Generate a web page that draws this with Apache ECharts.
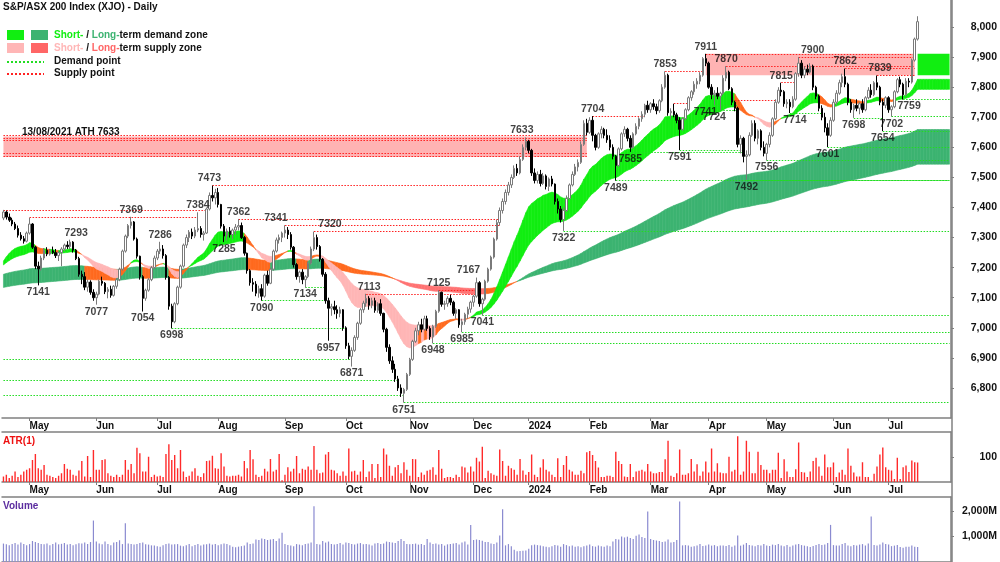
<!DOCTYPE html>
<html>
<head>
<meta charset="utf-8">
<script src="https://cdn.jsdelivr.net/npm/echarts/dist/echarts.min.js"></script>
<style>
  html, body { margin: 0; padding: 0; background: #fff; }
  #chart { width: 1000px; height: 562px; }
</style>
</head>
<body>
<div id="chart"></div>
<script>
// trading days from 17 Apr 2023, ASX holidays skipped; the last 11 are blank room on the right
const holidays = ['2023-04-25', '2023-06-12', '2023-12-25', '2023-12-26', '2024-01-01',
  '2024-01-26', '2024-03-29', '2024-04-01', '2024-04-25', '2024-06-10'];
const categoryCount = 327;
const monthNames = ['2024', 'Feb', 'Mar', 'Apr', 'May', 'Jun', 'Jul', 'Aug', 'Sep', 'Oct', 'Nov', 'Dec'];

// daily bars [open, high, low, close]
const priceBars = [
  [7365,7392,7358,7385],[7385,7390,7360,7368],[7368,7380,7352,7358],[7358,7366,7338,7345],[7345,7352,7325,7330],
  [7330,7340,7300,7308],[7308,7318,7290,7296],[7296,7305,7280,7288],[7288,7320,7284,7315],[7315,7366,7310,7345],
  [7345,7348,7262,7268],[7268,7272,7195,7205],[7205,7220,7141,7196],[7196,7240,7190,7232],[7232,7265,7225,7258],
  [7258,7268,7238,7245],[7245,7262,7240,7256],[7256,7270,7245,7250],[7250,7262,7232,7240],[7240,7255,7222,7250],
  [7250,7268,7205,7262],[7262,7280,7255,7275],[7275,7288,7262,7270],[7270,7293,7262,7285],[7285,7288,7250,7258],
  [7258,7262,7225,7230],[7230,7236,7170,7178],[7178,7190,7145,7170],[7170,7185,7125,7135],[7135,7160,7120,7152],
  [7152,7158,7110,7118],[7118,7128,7090,7100],[7100,7120,7077,7112],[7112,7160,7108,7155],[7155,7170,7140,7148],
  [7148,7152,7112,7120],[7120,7135,7098,7128],[7128,7140,7100,7108],[7108,7142,7104,7138],[7138,7165,7130,7160],
  [7160,7200,7155,7195],[7195,7260,7190,7255],[7255,7310,7250,7305],[7305,7345,7298,7340],[7340,7369,7330,7352],
  [7352,7355,7290,7295],[7295,7300,7230,7238],[7238,7240,7160,7170],[7170,7175,7054,7098],[7098,7130,7090,7125],
  [7125,7165,7120,7160],[7160,7205,7155,7200],[7200,7240,7195,7232],[7232,7262,7225,7255],[7255,7286,7245,7262],
  [7262,7275,7230,7240],[7240,7245,7160,7168],[7168,7172,7060,7072],[7072,7080,6998,7020],[7020,7085,7015,7080],
  [7080,7140,7075,7135],[7135,7210,7130,7205],[7205,7280,7200,7275],[7275,7310,7265,7300],[7300,7325,7285,7318],
  [7318,7330,7295,7305],[7305,7335,7298,7325],[7325,7384,7318,7330],[7330,7338,7300,7310],[7310,7322,7290,7315],
  [7315,7400,7312,7395],[7395,7450,7390,7440],[7440,7473,7420,7432],[7432,7462,7410,7450],[7450,7465,7400,7410],
  [7410,7412,7330,7338],[7338,7345,7285,7305],[7305,7330,7290,7322],[7322,7335,7300,7310],[7310,7330,7295,7325],
  [7325,7345,7310,7335],[7335,7362,7325,7340],[7340,7350,7295,7300],[7300,7305,7240,7248],[7248,7250,7180,7190],
  [7190,7195,7140,7150],[7150,7165,7120,7145],[7145,7155,7105,7115],[7115,7140,7100,7130],[7130,7145,7090,7105],
  [7105,7180,7100,7175],[7175,7190,7140,7148],[7148,7200,7145,7195],[7195,7260,7190,7255],[7255,7300,7250,7292],
  [7292,7310,7280,7300],[7300,7320,7285,7315],[7315,7341,7300,7325],[7325,7335,7295,7310],[7310,7318,7260,7268],
  [7268,7272,7200,7210],[7210,7215,7160,7170],[7170,7190,7150,7185],[7185,7195,7145,7160],[7160,7175,7134,7170],
  [7170,7220,7165,7215],[7215,7270,7210,7262],[7262,7320,7255,7300],[7300,7310,7260,7270],[7270,7275,7220,7228],
  [7228,7232,7170,7178],[7178,7185,7080,7090],[7090,7100,6957,7065],[7065,7080,7040,7070],[7070,7090,7045,7060],
  [7060,7075,7030,7048],[7048,7070,7035,7060],[7060,7062,6990,7000],[7000,7005,6930,6940],[6940,6950,6895,6905],
  [6905,6935,6871,6925],[6925,6975,6920,6968],[6968,7020,6960,7015],[7015,7065,7010,7060],[7060,7090,7050,7082],
  [7082,7113,7070,7098],[7098,7105,7060,7075],[7075,7100,7065,7090],[7090,7100,7050,7058],[7058,7085,7050,7080],
  [7080,7095,7040,7048],[7048,7050,6985,6995],[6995,7000,6920,6935],[6935,6945,6880,6890],[6890,6905,6850,6862],
  [6862,6880,6820,6830],[6830,6840,6790,6800],[6800,6812,6770,6782],[6782,6800,6751,6795],[6795,6850,6790,6845],
  [6845,6900,6840,6895],[6895,6960,6890,6955],[6955,7000,6950,6990],[6990,7020,6975,7010],[7010,7030,6985,6995],
  [6995,7040,6990,7030],[7030,7040,6990,6998],[6998,7005,6960,6970],[6970,7010,6948,7005],[7005,7060,7000,7055],
  [7055,7125,7050,7118],[7118,7120,7070,7078],[7078,7090,7060,7080],[7080,7105,7070,7098],[7098,7110,7075,7085],
  [7085,7090,7040,7048],[7048,7065,7030,7060],[7060,7062,7000,7010],[7010,7030,6985,7020],[7020,7050,7010,7045],
  [7045,7070,7030,7062],[7062,7090,7050,7085],[7085,7110,7070,7105],[7105,7167,7100,7150],[7150,7155,7070,7080],
  [7080,7100,7041,7095],[7095,7160,7090,7155],[7155,7200,7150,7195],[7195,7240,7190,7235],[7235,7300,7230,7295],
  [7295,7360,7290,7350],[7350,7400,7340,7390],[7390,7430,7380,7420],[7420,7460,7410,7450],[7450,7485,7440,7475],
  [7475,7510,7465,7500],[7500,7540,7495,7530],[7530,7545,7505,7515],[7515,7570,7510,7560],[7560,7610,7555,7600],
  [7600,7633,7590,7620],[7620,7625,7580,7590],[7590,7595,7505,7515],[7515,7530,7480,7490],[7490,7520,7480,7510],
  [7510,7525,7470,7480],[7480,7515,7475,7505],[7505,7510,7460,7470],[7470,7500,7455,7495],[7495,7505,7470,7478],
  [7478,7480,7410,7420],[7420,7430,7380,7395],[7395,7405,7350,7360],[7360,7400,7322,7390],[7390,7440,7385,7430],
  [7430,7480,7425,7475],[7475,7520,7470,7510],[7510,7545,7505,7535],[7535,7560,7520,7550],[7550,7620,7545,7610],
  [7610,7690,7605,7680],[7680,7695,7640,7650],[7650,7700,7645,7690],[7690,7704,7620,7640],[7640,7645,7590,7600],
  [7600,7650,7595,7645],[7645,7670,7630,7660],[7660,7665,7630,7640],[7640,7660,7615,7625],[7625,7640,7590,7600],
  [7600,7610,7560,7570],[7570,7575,7489,7540],[7540,7600,7535,7595],[7595,7650,7590,7645],[7645,7670,7635,7660],
  [7660,7665,7620,7630],[7630,7640,7585,7600],[7600,7650,7595,7645],[7645,7680,7640,7670],[7670,7700,7660,7695],
  [7695,7720,7685,7710],[7710,7745,7700,7740],[7740,7755,7715,7725],[7725,7750,7715,7745],[7745,7760,7725,7735],
  [7735,7745,7710,7722],[7722,7760,7715,7755],[7755,7810,7750,7800],[7800,7853,7795,7840],[7840,7845,7705,7715],
  [7715,7730,7695,7720],[7720,7745,7700,7708],[7708,7715,7680,7690],[7690,7700,7591,7660],[7660,7700,7655,7695],
  [7695,7730,7690,7725],[7725,7770,7720,7765],[7765,7790,7755,7785],[7785,7820,7775,7810],[7810,7830,7795,7820],
  [7820,7850,7810,7840],[7840,7900,7835,7895],[7895,7911,7870,7880],[7880,7885,7795,7800],[7800,7810,7760,7775],
  [7775,7790,7741,7780],[7780,7800,7760,7770],[7770,7785,7724,7780],[7780,7840,7775,7830],[7830,7870,7820,7850],
  [7850,7855,7790,7795],[7795,7800,7740,7750],[7750,7755,7720,7730],[7730,7735,7600,7610],[7610,7640,7580,7630],
  [7630,7635,7550,7570],[7570,7590,7492,7575],[7575,7650,7570,7640],[7640,7690,7635,7680],[7680,7690,7620,7630],
  [7630,7660,7610,7655],[7655,7660,7590,7600],[7600,7620,7570,7580],[7580,7615,7556,7610],[7610,7650,7600,7640],
  [7640,7700,7635,7695],[7695,7760,7690,7750],[7750,7800,7745,7790],[7790,7815,7770,7785],[7785,7790,7735,7745],
  [7745,7760,7730,7750],[7750,7760,7714,7735],[7735,7770,7730,7760],[7760,7850,7755,7845],[7845,7900,7835,7880],
  [7880,7890,7830,7840],[7840,7870,7830,7860],[7860,7875,7840,7850],[7850,7880,7845,7870],[7870,7875,7790,7800],
  [7800,7805,7760,7770],[7770,7775,7720,7730],[7730,7740,7690,7700],[7700,7715,7650,7665],[7665,7680,7601,7640],
  [7640,7700,7635,7690],[7690,7760,7685,7750],[7750,7790,7740,7780],[7780,7825,7775,7815],[7815,7845,7800,7835],
  [7835,7862,7800,7810],[7810,7815,7740,7750],[7750,7760,7715,7725],[7725,7745,7698,7740],[7740,7760,7720,7730],
  [7730,7750,7710,7745],[7745,7760,7715,7725],[7725,7770,7720,7765],[7765,7800,7760,7790],[7790,7810,7765,7775],
  [7775,7820,7770,7815],[7815,7839,7790,7800],[7800,7805,7740,7750],[7750,7760,7654,7740],[7740,7770,7730,7765],
  [7765,7770,7715,7725],[7725,7740,7702,7735],[7735,7790,7730,7785],[7785,7830,7780,7825],[7825,7835,7800,7810],
  [7810,7815,7759,7775],[7775,7830,7770,7820],[7820,7830,7800,7817],[7817,7895,7812,7890],[7890,7965,7885,7960],
  [7960,8036,7955,8018]
];

// ATR(1), index points
const atrValues = [
  22,29,16,25,42,20,29,42,49,55, 88,112,55,49,68,29,25,20,16,25, 35,72,53,49,29,25,46,84,22,104,
  20,128,49,49,88,91,35,25,20,29, 20,29,88,49,72,35,137,115,42,42, 101,20,29,22,25,20,112,151,88,108,
  55,128,42,20,25,42,55,25,20,35, 84,86,105,55,53,115,62,25,22,25, 25,29,22,84,55,128,91,29,20,25,
  53,42,92,42,49,112,7,29,59,42, 53,104,35,53,49,62,49,144,49,35, 38,110,120,49,46,35,25,42,25,134,
  42,45,29,42,88,20,42,72,16,72, 20,134,110,65,25,59,68,35,79,49, 25,92,91,20,38,29,45,49,59,29,
  128,53,16,20,20,16,29,20,62,58, 38,62,42,97,82,141,16,45,35,29, 25,130,84,25,65,55,49,29,92,46,
  29,40,110,29,20,58,91,49,42,29, 20,95,20,68,104,49,42,29,29,45, 35,119,124,108,84,58,20,20,25,25,
  20,121,84,72,22,20,72,20,42,45, 49,42,72,42,35,35,40,40,91,165, 25,20,35,130,29,29,35,92,42,71,
  25,42,82,38,134,42,75,38,35,35, 101,42,49,183,29,42,165,121,35,35, 121,68,49,49,35,49,49,117,16,91,
  42,20,20,51,158,40,38,20,42,84, 97,62,25,110,59,59,78,20,38,49, 29,134,65,38,22,22,79,20,20,5,
  33,62,110,138,59,49,46,12,97,12, 59,66,40,86,79,78
];

// volume, millions of shares
const volumes = [
  720,690,650,700,740,680,760,700,650,700, 820,780,740,700,690,720,650,700,760,690,
  710,740,680,700,650,690,730,720,760,700, 780,1620,800,720,690,800,700,650,760,780,
  850,700,1510,720,700,680,700,740,760,690, 680,650,640,620,600,650,700,720,680,690,
  700,640,620,650,700,620,660,700,640,680, 690,720,680,700,650,690,720,700,650,600,
  580,600,620,640,760,700,720,880,860,920, 900,860,880,900,820,920,1145,700,660,640,
  620,700,680,650,700,720,760,2180,700,680, 820,760,800,700,680,700,740,680,760,740,
  700,680,720,740,690,700,680,640,720,740, 700,720,800,780,760,740,820,900,820,700,
  690,700,720,680,700,660,900,760,700,720, 680,700,640,690,700,720,740,680,760,800,
  680,1450,860,880,860,830,780,780,720,700, 760,1035,2060,650,700,620,480,420,430,440,
  450,520,650,680,660,640,620,600,580,620, 660,640,600,700,660,620,640,600,620,580,
  620,640,680,620,600,640,620,600,640,620, 800,900,880,1000,960,990,940,900,1030,1070,
  980,940,1975,900,860,840,820,780,800,880, 760,780,860,2365,650,660,640,600,620,640,
  700,630,640,680,640,660,620,640,640,630, 660,600,640,1035,640,680,740,660,640,620,
  660,640,700,640,630,680,660,700,640,620, 660,600,640,680,700,660,640,620,590,630,
  660,700,660,680,740,1450,660,640,640,700, 740,640,620,660,640,680,700,640,720,1780,
  660,640,680,760,700,680,620,640,660,590, 560,600,600,640,600,590
];

// swing points [bar index, value]
const highLabels = [[23,7293],[44,7369],[54,7286],[67,7384],[72,7473],[81,7362],[97,7341],[107,7320],
  [125,7113],[150,7125],[163,7167],[180,7633],[203,7704],[228,7853],[242,7911],[249,7870],[268,7815],
  [274,7900],[290,7862],[301,7839]];
const lowLabels = [[12,7141],[32,7077],[48,7054],[58,6998],[76,7285],[89,7090],[104,7134],[112,6957],
  [120,6871],[138,6751],[148,6948],[158,6985],[165,7041],[193,7322],[211,7489],[216,7585],[233,7591],
  [245,7741],[247,7724],[256,7492],[263,7556],[271,7714],[284,7601],[293,7698],[303,7654],[306,7702],[310,7759]];
const labelNudge = { 7293: 6, 7341: -9, 7320: 16, 7113: 3, 7167: -8, 7633: -4, 7900: 14, 7741: -9,
  7724: -6, 7714: 5, 7759: 6, 7839: 3, 7473: -3 };

// dotted lines [from bar, to bar, price]
const supplyLines = [[0,70,7392],[9,67,7366],[72,174,7473],[81,171,7362],[97,171,7341],[107,170,7320],
  [125,163,7113],[150,163,7125],[0,201,7639],[0,201,7630],[0,201,7622],[0,201,7580],[0,201,7569],
  [203,221,7704],[228,241,7853],[231,236,7745],[242,314,7911],[249,314,7870],[251,267,7755],
  [268,273,7815],[274,314,7900],[290,314,7862],[301,314,7839]];
const demandLines = [[0,120,6896],[0,136,6826],[0,138,6777],[58,118,6998],[89,111,7090],[104,111,7134],
  [138,326,6751],[148,326,6948],[158,326,6985],[165,326,7041],[193,326,7322],[211,326,7489],
  [216,255,7585],[233,255,7591],[245,253,7741],[247,253,7724],[256,326,7492],[263,326,7556],
  [271,282,7714],[284,326,7601],[293,303,7698],[303,326,7654],[306,326,7702],[310,326,7759]];

// zones [from bar, to bar, low, high]
const supplyZones = [[0,201,7568,7636],[242,314,7840,7911]];
const demandBoxes = [[315,326,7840,7911]];

const shortPeriods = [20, 40], shortSeed = [7205, 7200];
const longPeriods = [140, 240], longSeed = [7175, 7132];

const priceTicks = { min: 6700, max: 8090, step: 100 };

// ---------------------------------------------------------------
const holidaySet = new Set(holidays);
const dates = [];
for (let d = new Date(Date.UTC(2023, 3, 17)); dates.length < categoryCount; d.setUTCDate(d.getUTCDate() + 1)) {
  const wd = d.getUTCDay();
  const s = d.toISOString().slice(0, 10);
  if (wd === 0 || wd === 6 || holidaySet.has(s)) continue;
  dates.push(s);
}
const isMonthStart = (i) => i > 0 && dates[i].slice(5, 7) !== dates[i - 1].slice(5, 7);
const monthLabel = (v) => monthNames[+v.slice(5, 7) - 1];

const closes = priceBars.map(b => b[3]);
const last = closes.length - 1;

function ema(vals, period, seed) {
  const k = 2 / (period + 1);
  let e = seed;
  return vals.map(v => (e = e + k * (v - e)));
}

const SHORT_COL = ['#11EE11', '#FFB6B6', '#FF6A1F'];
const LONG_COL = ['#3CB371', '#FF7272', '#FF6A1F'];

function ribbon(periods, seed) {
  const f = ema(closes, periods[0], seed[0]);
  const s = ema(closes, periods[1], seed[1]);
  const items = [];
  for (let i = 0; i < categoryCount - 1; i++) {
    const a = Math.min(i, last), b = Math.min(i + 1, last);
    const c = closes[a];
    let k;
    if (f[a] >= s[a]) k = c >= s[a] ? 0 : 2;
    else k = c <= s[a] ? 1 : 2;
    items.push([i, f[a], s[a], f[b], s[b], k]);
  }
  return items;
}

function ribbonSeries(items, palette, z) {
  return {
    type: 'custom', xAxisIndex: 0, yAxisIndex: 0, z: z, silent: true, clip: true,
    encode: { x: 0, y: [1, 2] },
    data: items,
    renderItem: (params, api) => {
      const i = api.value(0);
      const pts = [
        api.coord([i, api.value(1)]), api.coord([i + 1, api.value(3)]),
        api.coord([i + 1, api.value(4)]), api.coord([i, api.value(2)])
      ];
      const col = palette[api.value(5)];
      return { type: 'polygon', shape: { points: pts }, style: { fill: col, stroke: col, lineWidth: 0.6 } };
    }
  };
}

const FONT = 'Liberation Sans, Arial, sans-serif';
const AXIS_GREY = '#808080';

function dotted(list, color) {
  return list.map(([a, b, p]) => [
    { coord: [dates[a], p], lineStyle: { color: color } },
    { coord: [dates[b], p] }
  ]);
}

function swingLabels(list, pos) {
  return {
    type: 'scatter', xAxisIndex: 0, yAxisIndex: 0, z: 6, silent: true,
    symbolSize: 1, itemStyle: { color: 'rgba(0,0,0,0)' },
    data: list.map(([i, v]) => ({
      value: [i, v],
      label: { offset: [labelNudge[v] || 0, 0] }
    })),
    label: {
      show: true, position: pos, distance: 1, color: '#111',
      fontFamily: FONT, fontWeight: 'bold', fontSize: 10.5,
      formatter: p => p.value[1]
    }
  };
}

const monthAxis = (grid, showLabels) => ({
  type: 'category', gridIndex: grid, data: dates, boundaryGap: true,
  axisLine: { show: true, lineStyle: { color: AXIS_GREY, width: 1.5 } },
  axisTick: { show: true, interval: (i) => isMonthStart(i), alignWithLabel: true, length: 3,
    lineStyle: { color: AXIS_GREY } },
  axisLabel: { show: showLabels, interval: (i) => isMonthStart(i), formatter: monthLabel,
    align: 'left', margin: 3, color: '#111', fontFamily: FONT, fontWeight: 'bold', fontSize: 10 },
  splitLine: { show: false }
});
const topLine = (grid) => ({
  type: 'category', gridIndex: grid, data: dates, position: 'top',
  axisLine: { show: true, lineStyle: { color: AXIS_GREY, width: 1.5 } },
  axisTick: { show: false }, axisLabel: { show: false }, splitLine: { show: false }
});
const rightAxis = (grid, min, max, step, fmt) => ({
  type: 'value', gridIndex: grid, position: 'right', min: min, max: max, interval: step,
  axisLine: { show: true, lineStyle: { color: AXIS_GREY, width: 1.5 } },
  axisTick: { show: true, length: 3, lineStyle: { color: AXIS_GREY } },
  axisLabel: { showMinLabel: false, showMaxLabel: false, align: 'right', margin: 46,
    color: '#111', fontFamily: FONT, fontWeight: 'bold', fontSize: 10.5, formatter: fmt },
  splitLine: { show: false }
});

const legendText = { fontFamily: FONT, fontWeight: 'bold', fontSize: 10, fill: '#111' };
const richPart = (c) => ({ fill: c, fontFamily: FONT, fontWeight: 'bold', fontSize: 10 });

const chart = echarts.init(document.getElementById('chart'), null, { renderer: 'canvas' });
chart.setOption({
  animation: false,
  backgroundColor: '#fff',
  textStyle: { fontFamily: FONT },
  grid: [
    { left: 2, right: 48, top: 0, height: 418 },
    { left: 2, right: 48, top: 432, height: 50 },
    { left: 2, right: 48, top: 497, height: 69 }
  ],
  xAxis: [monthAxis(0, true), monthAxis(1, true), monthAxis(2, false), topLine(1), topLine(2)],
  yAxis: [
    rightAxis(0, priceTicks.min, priceTicks.max, priceTicks.step, v => v.toLocaleString('en-US')),
    rightAxis(1, 0, 200, 100, v => String(v)),
    rightAxis(2, 0, 2540, 1000, v => v.toLocaleString('en-US') + 'M')
  ],
  graphic: [
    { type: 'line', shape: { x1: 952, y1: 0, x2: 952, y2: 562 }, style: { stroke: AXIS_GREY, lineWidth: 1.5 }, z: 50 },
    { type: 'text', left: 3, top: 2, style: Object.assign({}, legendText, { text: 'S&P/ASX 200 Index (XJO) - Daily' }) },
    { type: 'rect', shape: { x: 7, y: 30, width: 17, height: 10 }, style: { fill: SHORT_COL[0] } },
    { type: 'rect', shape: { x: 31, y: 30, width: 17, height: 10 }, style: { fill: LONG_COL[0] } },
    { type: 'rect', shape: { x: 7, y: 43, width: 17, height: 10 }, style: { fill: SHORT_COL[1] } },
    { type: 'rect', shape: { x: 31, y: 43, width: 17, height: 10 }, style: { fill: '#FF6666' } },
    { type: 'line', shape: { x1: 7, y1: 62, x2: 44, y2: 62 }, style: { stroke: '#22DD22', lineWidth: 2, lineDash: [2, 2] } },
    { type: 'line', shape: { x1: 7, y1: 74, x2: 44, y2: 74 }, style: { stroke: '#FF2222', lineWidth: 2, lineDash: [2, 2] } },
    { type: 'text', left: 54, top: 30, style: Object.assign({}, legendText, {
        text: '{a|Short-} / {b|Long-}term demand zone',
        rich: { a: richPart(SHORT_COL[0]), b: richPart(LONG_COL[0]) } }) },
    { type: 'text', left: 54, top: 43, style: Object.assign({}, legendText, {
        text: '{a|Short-} / {b|Long-}term supply zone',
        rich: { a: richPart(SHORT_COL[1]), b: richPart('#FF6666') } }) },
    { type: 'text', left: 54, top: 56, style: Object.assign({}, legendText, { text: 'Demand point' }) },
    { type: 'text', left: 54, top: 68, style: Object.assign({}, legendText, { text: 'Supply point' }) },
    { type: 'text', left: 22, top: 127, style: Object.assign({}, legendText, { text: '13/08/2021 ATH 7633' }) },
    { type: 'text', left: 3, top: 436, style: Object.assign({}, legendText, { text: 'ATR(1)', fill: '#EE1111' }) },
    { type: 'text', left: 3, top: 501, style: Object.assign({}, legendText, { text: 'Volume', fill: '#5B2C9F' }) }
  ],
  series: [
    {
      name: 'zones', type: 'line', xAxisIndex: 0, yAxisIndex: 0, data: [], z: 0, silent: true,
      markArea: {
        silent: true,
        data: supplyZones.map(([a, b, lo, hi]) => [
          { coord: [dates[a], hi], itemStyle: { color: '#FFB3B3' } }, { coord: [dates[b], lo] }
        ]).concat(demandBoxes.map(([a, b, lo, hi]) => [
          { coord: [dates[a], hi], itemStyle: { color: SHORT_COL[0] } }, { coord: [dates[b], lo] }
        ]))
      }
    },
    ribbonSeries(ribbon(longPeriods, longSeed), LONG_COL, 1),
    ribbonSeries(ribbon(shortPeriods, shortSeed), SHORT_COL, 2),
    {
      name: 'points', type: 'line', xAxisIndex: 0, yAxisIndex: 0, data: [], z: 3, silent: true,
      markLine: {
        silent: true, symbol: ['none', 'none'], label: { show: false },
        lineStyle: { type: [1.5, 1.5], width: 1.2 },
        data: dotted(supplyLines, '#FF2222').concat(dotted(demandLines, '#22DD22'))
      }
    },
    {
      name: 'XJO', type: 'candlestick', xAxisIndex: 0, yAxisIndex: 0, z: 5, barWidth: 2,
      data: priceBars.map(b => [b[0], b[3], b[2], b[1]]),
      itemStyle: { color: '#ffffff', color0: '#000000', borderColor: '#7a7a7a', borderColor0: '#000000', borderWidth: 1 }
    },
    swingLabels(highLabels, 'top'),
    swingLabels(lowLabels, 'bottom'),
    {
      name: 'ATR(1)', type: 'bar', xAxisIndex: 1, yAxisIndex: 1, data: atrValues,
      barWidth: 1.4, itemStyle: { color: '#FF2A2A' }, silent: true
    },
    {
      name: 'Volume', type: 'bar', xAxisIndex: 2, yAxisIndex: 2, data: volumes,
      barWidth: 1.2, itemStyle: { color: '#8A8AD0' }, silent: true
    }
  ]
});
</script>
</body>
</html>
